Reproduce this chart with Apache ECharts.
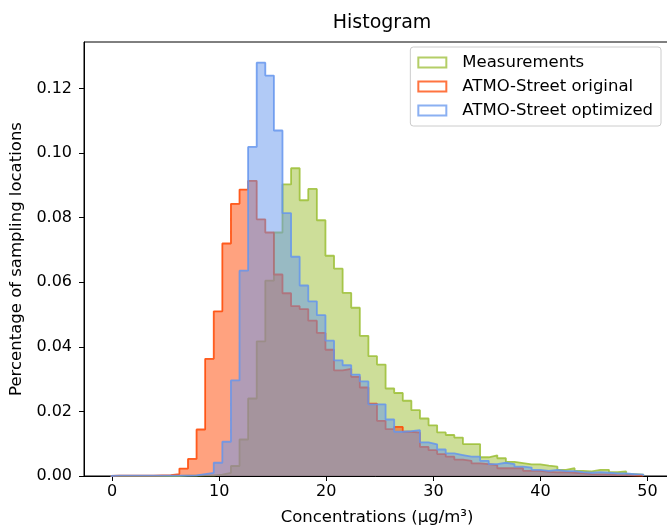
<!DOCTYPE html>
<html>
<head>
<meta charset="utf-8">
<script src="https://cdn.jsdelivr.net/npm/echarts@6/dist/echarts.min.js"></script>
<style>
html,body{margin:0;padding:0;background:#fff;}
#chart{width:667px;height:525px;}
</style>
</head>
<body>
<div id="chart"></div>
<script>
// Histogram bins (common to all series)
const binStart = -0.14;
const binWidth = 0.8024;
const xTicks = [0, 10, 20, 30, 40, 50];
const seriesNames = ['Measurements', 'ATMO-Street original', 'ATMO-Street optimized'];

// Fraction of sampling locations per bin (62 bins)
const measurements = [
  0, 0, 0, 0, 0, 0, 0, 0, 0.0001, 0.0001,
  0.0002, 0.0002, 0.0004, 0.001, 0.0031, 0.0113, 0.024, 0.0417, 0.0605, 0.0754,
  0.0903, 0.0953, 0.0854, 0.0889, 0.0792, 0.0682, 0.0642, 0.0567, 0.0521, 0.0434,
  0.0371, 0.0345, 0.0271, 0.0257, 0.0233, 0.0204, 0.0178, 0.0157, 0.0135, 0.0127,
  0.0119, 0.0099, 0.0099, 0.0058, 0.0064, 0.0055, 0.0044, 0.004, 0.0036, 0.0036,
  0.0032, 0.0029, 0.0019, 0.0024, 0.0016, 0.0014, 0.0019, 0.0019, 0.0012, 0.0014,
  0.0006, 0.0004
];
const atmoOriginal = [
  0.0001, 0.0001, 0.0001, 0.0001, 0.0001, 0.0002, 0.0003, 0.0006, 0.0023, 0.0053,
  0.0144, 0.0363, 0.051, 0.072, 0.0843, 0.0887, 0.0914, 0.0795, 0.0754, 0.0624,
  0.0566, 0.0526, 0.0517, 0.0481, 0.0443, 0.0391, 0.0327, 0.0332, 0.0307, 0.0274,
  0.0224, 0.0171, 0.0145, 0.0152, 0.0137, 0.0134, 0.009, 0.008, 0.0068, 0.006,
  0.0051, 0.0047, 0.0039, 0.0037, 0.0034, 0.0024, 0.0024, 0.0024, 0.0016, 0.0016,
  0.0013, 0.0011, 0.0012, 0.001, 0.0008, 0.0006, 0.0005, 0.0005, 0.0003, 0.0003,
  0.0002, 0.0001
];
const atmoOptimized = [
  0.0001, 0.0001, 0.0001, 0.0001, 0.0001, 0.0001, 0.0001, 0.0001, 0.0001, 0.0002,
  0.0006, 0.001, 0.0041, 0.0106, 0.0296, 0.0636, 0.1019, 0.128, 0.124, 0.107,
  0.0814, 0.0679, 0.059, 0.0541, 0.0498, 0.0419, 0.0358, 0.0343, 0.0314, 0.0293,
  0.0222, 0.0222, 0.0175, 0.0137, 0.0139, 0.0142, 0.0104, 0.0098, 0.0082, 0.007,
  0.0065, 0.006, 0.006, 0.0047, 0.0037, 0.0041, 0.0037, 0.0029, 0.0026, 0.0019,
  0.0016, 0.0019, 0.0015, 0.0015, 0.0012, 0.001, 0.0012, 0.001, 0.0008, 0.0008,
  0.0006, 0.0004
];

const colors = ['#9BBE34', '#FF4500', '#6495ED'];
const font = 'DejaVu Sans';
const fs = 16;

function stepPoints(vals) {
  const pts = [[binStart, 0]];
  vals.forEach((v, i) => pts.push([binStart + i * binWidth, v]));
  const end = binStart + vals.length * binWidth;
  pts.push([end, 0]);
  return pts;
}

const allVals = [measurements, atmoOriginal, atmoOptimized];
const dataMax = Math.max(...allVals.map(a => Math.max(...a)));
const xLo = binStart, xHi = binStart + measurements.length * binWidth;
const pad = (xHi - xLo) * 0.05;

const chart = echarts.init(document.getElementById('chart'), null, {renderer: 'canvas'});
chart.setOption({
  animation: false,
  backgroundColor: '#fff',
  textStyle: {fontFamily: font},
  title: {
    text: 'Histogram',
    left: 377, top: 9, textAlign: 'center',
    textStyle: {fontFamily: font, fontSize: 19, fontWeight: 'normal', color: '#000'}
  },
  legend: {
    orient: 'vertical',
    right: 6, top: 47,
    padding: [7, 8, 7, 7],
    backgroundColor: '#fff',
    borderColor: '#ccc', borderWidth: 1, borderRadius: 3,
    itemWidth: 28, itemHeight: 10, itemGap: 7,
    textStyle: {fontFamily: font, fontSize: 16.5, color: '#000', padding: [0, 0, 0, 11]},
    data: seriesNames.map((n, i) => ({
      name: n, icon: 'rect',
      itemStyle: {color: 'rgba(255,255,255,0)', borderColor: colors[i], borderWidth: 2, opacity: 0.75}
    }))
  },
  grid: {left: 84, top: 42, right: -3, bottom: 49, show: true, borderColor: '#000', borderWidth: 1,
    containLabel: false, outerBoundsMode: 'none'},
  xAxis: {
    type: 'value',
    min: xLo - pad, max: xHi + pad,
    name: 'Concentrations (μg/m³)',
    nameLocation: 'middle', nameGap: 33,
    nameTextStyle: {fontFamily: font, fontSize: 16.5, color: '#000'},
    axisLine: {onZero: false, lineStyle: {color: '#000', width: 1}},
    axisTick: {show: true, length: 5, lineStyle: {color: '#000'}, customValues: xTicks},
    axisLabel: {fontFamily: font, fontSize: fs, color: '#000', margin: 8, customValues: xTicks},
    splitLine: {show: false}
  },
  yAxis: {
    type: 'value',
    min: 0, max: dataMax * 1.05, interval: 0.02,
    name: 'Percentage of sampling locations',
    nameLocation: 'middle', nameGap: 55,
    nameTextStyle: {fontFamily: font, fontSize: 16.5, color: '#000'},
    axisLine: {show: true, onZero: false, lineStyle: {color: '#000', width: 1}},
    axisTick: {show: true, length: 5, lineStyle: {color: '#000'}},
    axisLabel: {fontFamily: font, fontSize: fs, color: '#000', margin: 12,
      formatter: v => v.toFixed(2), showMaxLabel: false},
    splitLine: {show: false}
  },
  series: allVals.map((vals, i) => ({
    name: seriesNames[i],
    type: 'line',
    step: 'end',
    symbol: 'none',
    data: stepPoints(vals),
    lineStyle: {color: colors[i], width: 1.8, opacity: 0.85},
    itemStyle: {color: colors[i]},
    areaStyle: {color: colors[i], opacity: 0.5, origin: 'start'},
    z: 2 + i
  }))
});
</script>
</body>
</html>
